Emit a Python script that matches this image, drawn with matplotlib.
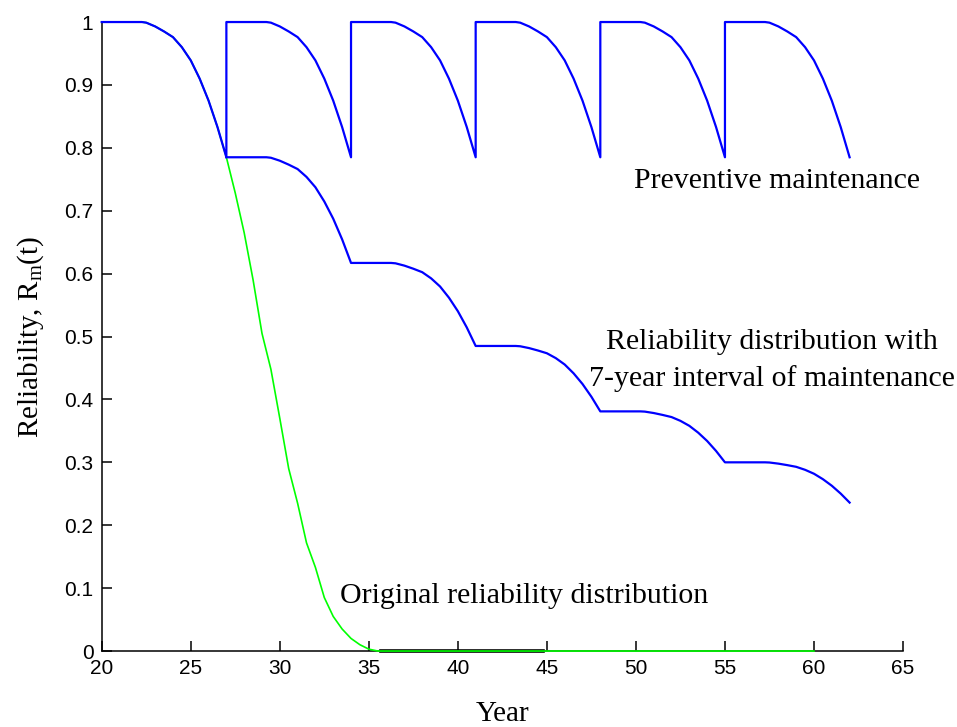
import numpy as np
import matplotlib
matplotlib.use('Agg')
import matplotlib.pyplot as plt

# shape of one maintenance interval (years after the start, reliability)
seg_offsets = [0, 1, 2, 2.25, 2.5, 3, 3.5, 4, 4.5, 5, 5.5, 6, 6.5, 7]
seg_rel = [1, 1, 1, 1.0, 0.999, 0.993, 0.985, 0.976, 0.960, 0.939, 0.910, 0.875, 0.833, 0.785]

# original reliability after year 27
tail_years = [27.5, 28, 28.5, 29, 29.5, 30, 30.5, 31, 31.5, 32, 32.5, 33, 33.5, 34, 34.5, 35, 35.5, 60]
tail_rel = [0.728, 0.665, 0.59, 0.505, 0.448, 0.37, 0.29, 0.235, 0.172, 0.133, 0.085, 0.055,
            0.035, 0.02, 0.01, 0.003, 0.0, 0.0]

# maintenance instants and reliability levels right after each maintenance
pm_starts = [20, 27, 34, 41, 48, 55]
stair_levels = [0.785, 0.617, 0.485, 0.381, 0.300, 0.236]

x_ticks = [20, 25, 30, 35, 40, 45, 50, 55, 60, 65]
y_ticks = [0, 0.1, 0.2, 0.3, 0.4, 0.5, 0.6, 0.7, 0.8, 0.9, 1]
y_tick_labels = ['0', '0.1', '0.2', '0.3', '0.4', '0.5', '0.6', '0.7', '0.8', '0.9', '1']

plt.rcParams['mathtext.fontset'] = 'custom'
plt.rcParams['mathtext.rm'] = 'Liberation Serif'

seg_offsets = np.array(seg_offsets)
seg_rel = np.array(seg_rel)

# original curve
orig_x = np.concatenate([20 + seg_offsets, tail_years])
orig_y = np.concatenate([seg_rel, tail_rel])

# preventive maintenance sawtooth
saw_x = np.concatenate([s + seg_offsets for s in pm_starts])
saw_y = np.concatenate([seg_rel for s in pm_starts])

# staircase: each interval decays from one level to the next
drop = (1 - seg_rel) / (1 - seg_rel[-1])
st_x = []
st_y = []
for k in range(len(stair_levels) - 1):
    st_x.append(pm_starts[k + 1] + seg_offsets)
    st_y.append(stair_levels[k] + (stair_levels[k + 1] - stair_levels[k]) * drop)
st_x = np.concatenate(st_x)
st_y = np.concatenate(st_y)

fig = plt.figure(figsize=(9.57, 7.27), dpi=100)
ax = fig.add_axes([0.1063, 0.1045, 0.8373, 0.8652])

ax.plot([35.7, 44.8], [0, 0], color='black', lw=2.6, zorder=3, clip_on=False)
ax.plot(orig_x, orig_y, color='#00ff00', lw=1.2, zorder=4, clip_on=False)
ax.plot(saw_x, saw_y, color='#0000ff', lw=1.6, zorder=5, clip_on=False)
ax.plot(st_x, st_y, color='#0000ff', lw=1.6, zorder=5, clip_on=False)

ax.set_xlim(20, 65)
ax.set_ylim(0, 1)
ax.set_xticks(x_ticks)
ax.set_yticks(y_ticks)
ax.set_yticklabels(y_tick_labels)

for side in ['top', 'right']:
    ax.spines[side].set_visible(False)
for side in ['left', 'bottom']:
    ax.spines[side].set_linewidth(1.1)
ax.tick_params(direction='in', length=7, width=1.1, labelsize=15, pad=6)
for lab in ax.get_xticklabels() + ax.get_yticklabels():
    lab.set_family('Liberation Sans')

serif = 'Liberation Serif'
ax.set_xlabel('Year', family=serif, fontsize=21, labelpad=16)
ax.set_ylabel('Reliability, R$_\\mathrm{m}$(t)', family=serif, fontsize=21, labelpad=13)

ax.text(49.9, 0.747, 'Preventive maintenance', family=serif, fontsize=21.5,
        ha='left', va='center')
ax.text(57.66, 0.492, 'Reliability distribution with', family=serif, fontsize=21.5,
        ha='center', va='center')
ax.text(57.66, 0.434, '7-year interval of maintenance', family=serif, fontsize=21.5,
        ha='center', va='center')
ax.text(33.39, 0.087, 'Original reliability distribution', family=serif, fontsize=21.5,
        ha='left', va='center')

fig.savefig('out.png', dpi=100)
